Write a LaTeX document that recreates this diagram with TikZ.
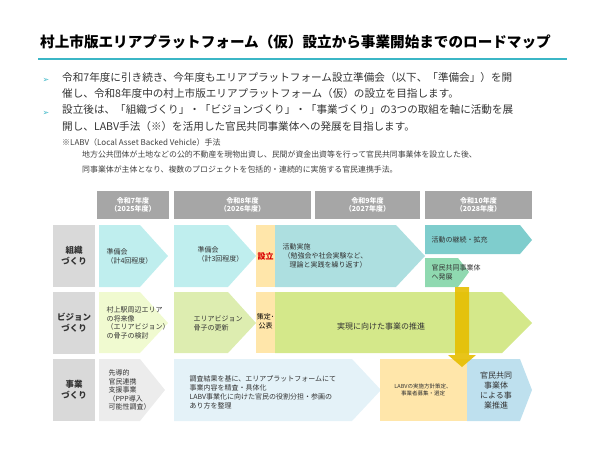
\documentclass[tikz,border=0pt]{standalone}
\usepackage{fontspec}
\setmainfont{Noto Sans CJK JP}
\newfontfamily\djv{DejaVu Sans}
\definecolor{teal1}{RGB}{59,182,198}
\definecolor{cyanA}{RGB}{191,238,238}
\definecolor{yel}{RGB}{255,230,170}
\definecolor{cyanB}{RGB}{173,223,224}
\definecolor{cyanC}{RGB}{127,205,205}
\definecolor{grn}{RGB}{143,217,176}
\definecolor{limeA}{RGB}{240,250,208}
\definecolor{limeB}{RGB}{221,237,176}
\definecolor{limeC}{RGB}{212,232,138}
\definecolor{blueA}{RGB}{228,242,248}
\definecolor{blueB}{RGB}{190,224,238}
\definecolor{arr}{RGB}{230,190,0}
\begin{document}
\begin{tikzpicture}[x=1pt,y=-1pt,
 hdr/.style={fill=gray!70,text=white,font=\fontsize{7}{8.5}\selectfont\bfseries,align=center},
 txt/.style={font=\fontsize{7}{9}\selectfont,align=left,anchor=west,text=black!80},
 ]
\useasboundingbox (0,0) rectangle (600,450);
\node[font=\fontsize{14.6}{16}\selectfont\bfseries,anchor=west,inner sep=0] (title) at (40,42) {村上市版エリアプラットフォーム（仮）設立から事業開始までのロードマップ};
\draw[teal1,line width=1.2pt] (38,59) -- (567,59);
\foreach \y in {80,113}{\node[text=teal1,font=\djv\fontsize{8}{9}\selectfont] at (46,\y) {➢};}
\node[font=\fontsize{10.6}{16.3}\selectfont,anchor=north west,align=left,text=black!80,inner sep=0] (b1) at (62,72) {令和7年度に引き続き、今年度もエリアプラットフォーム設立準備会（以下、「準備会」）を開\\催し、令和8年度中の村上市版エリアプラットフォーム（仮）の設立を目指します。\\設立後は、「組織づくり」・「ビジョンづくり」・「事業づくり」の3つの取組を軸に活動を展\\開し、LABV手法（※）を活用した官民共同事業体への発展を目指します。};
\node[font=\fontsize{8}{9}\selectfont,anchor=west,text=black!75,inner sep=0] (n0) at (62,142) {※LABV（Local Asset Backed Vehicle）手法};
\node[font=\fontsize{7.9}{15}\selectfont,anchor=north west,align=left,text=black!75,inner sep=0] (n1) at (82,151) {地方公共団体が土地などの公的不動産を現物出資し、民間が資金出資等を行って官民共同事業体を設立した後、\\同事業体が主体となり、複数のプロジェクトを包括的・連続的に実施する官民連携手法。};
% headers
\node[hdr,minimum width=72,minimum height=28] (h7) at (133,205) {令和7年度\\（2025年度）};
\node[hdr,minimum width=137,minimum height=28] (h8) at (242.5,205) {令和8年度\\（2026年度）};
\node[hdr,minimum width=105,minimum height=28] (h9) at (367.5,205) {令和9年度\\（2027年度）};
\node[hdr,minimum width=107,minimum height=28] (h10) at (478.5,205) {令和10年度\\（2028年度）};
% labels
\foreach \yy/\t/\n in {225/組織\\づくり/l1,292/ビジョン\\づくり/l2,359/事業\\づくり/l3}{
 \fill[gray!30] (53,\yy) rectangle (95,\yy+62);
 \node[font=\fontsize{8.5}{11}\selectfont\bfseries,align=center,text=black!80] (\n) at (74,\yy+31) {\t};}
% row1
\fill[cyanA] (99,225) -- (140,225) -- (168,256) -- (140,287) -- (99,287) -- cycle;
\node[txt] (r1a) at (103,256) {準備会\\（計4回程度）};
\fill[cyanA] (174,225) -- (228,225) -- (256,256) -- (228,287) -- (174,287) -- cycle;
\node[txt] (r1b) at (194,254) {準備会\\（計3回程度）};
\fill[yel] (256,225) rectangle (275,287);
\node[font=\fontsize{8}{9}\selectfont\bfseries,text=red!85!black] (s1) at (265.5,256) {設立};
\fill[cyanB] (275,225) -- (396,225) -- (425,256) -- (396,287) -- (275,287) -- cycle;
\node[txt] (r1c) at (279,256) {活動実施\\ \,（勉強会や社会実験など、\\ \quad 理論と実践を繰り返す）};
\fill[cyanC] (425,225) -- (520,225) -- (532,240) -- (520,254) -- (425,254) -- cycle;
\node[txt] (r1d) at (428,240) {活動の継続・拡充};
\fill[grn] (425,258) -- (458,258) -- (469,272) -- (458,287) -- (425,287) -- cycle;
\node[txt] (r1e) at (428,272) {官民共同事業体\\へ発展};
% row2
\fill[limeA] (99,292) -- (140,292) -- (168,323) -- (140,353) -- (99,353) -- cycle;
\node[txt,font=\fontsize{7}{8.6}\selectfont] (r2a) at (103,323) {村上駅周辺エリア\\の将来像\\（エリアビジョン）\\の骨子の検討};
\fill[limeB] (174,292) -- (228,292) -- (256,323) -- (228,353) -- (174,353) -- cycle;
\node[txt] (r2b) at (190,323) {エリアビジョン\\骨子の更新};
\fill[yel] (256,292) rectangle (275,353);
\node[font=\fontsize{7}{9}\selectfont,align=center] (s2) at (265.5,321) {策定･\\公表};
\fill[limeC] (275,292) -- (502,292) -- (532,323) -- (502,353) -- (275,353) -- cycle;
\node[font=\fontsize{8}{9}\selectfont,text=black!80] (r2c) at (381,326) {実現に向けた事業の推進};
% row3
\fill[gray!15] (99,359) -- (140,359) -- (165,390) -- (140,421) -- (99,421) -- cycle;
\node[txt,font=\fontsize{7}{8.4}\selectfont] (r3a) at (105,390) {先導的\\官民連携\\支援事業\\（PPP導入\\可能性調査）};
\fill[blueA] (174,359) -- (352,359) -- (381,390) -- (352,421) -- (174,421) -- cycle;
\node[txt] (r3b) at (186,392) {調査結果を基に、エリアプラットフォームにて\\事業内容を精査・具体化\\LABV事業化に向けた官民の役割分担・参画の\\あり方を整理};
\fill[yel] (380,359) rectangle (467,421);
\node[font=\fontsize{5.5}{7}\selectfont,align=center,text=black!80] (r3c) at (423,390) {LABVの実施方針策定、\\事業者募集・選定};
\fill[blueB] (467,359) -- (520,359) -- (532,390) -- (520,421) -- (467,421) -- cycle;
\node[font=\fontsize{8}{10}\selectfont,align=center,text=black!80] (r3d) at (496,390) {官民共同\\事業体\\による事\\業推進};
% arrow
\fill[arr,opacity=0.9] (455,287) -- (469,287) -- (469,355) -- (476,355) -- (462,367) -- (448,355) -- (455,355) -- cycle;
\end{tikzpicture}
\end{document}
